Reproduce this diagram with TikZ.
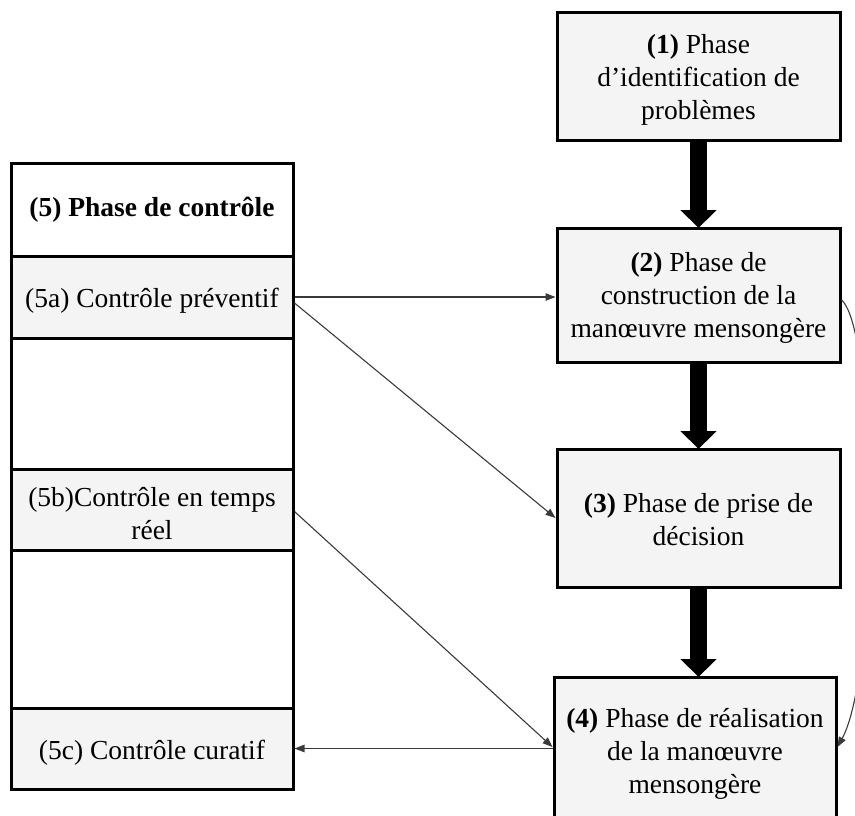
\documentclass[tikz,border=0pt]{standalone}
\usepackage{fontspec}
\setmainfont{Liberation Serif}
\usetikzlibrary{arrows.meta,calc}
\definecolor{boxfill}{HTML}{F4F4F4}
\definecolor{thinline}{HTML}{3A3A3A}
\begin{document}
\begin{tikzpicture}[x=1pt,y=-1pt,
  every node/.style={font=\fontsize{27.5}{33}\selectfont, align=center, inner sep=0pt},
  phase/.style={draw=black, line width=3pt, fill=boxfill, minimum width=283pt},
  row/.style={draw=black, line width=3pt, fill=boxfill, minimum width=282pt},
  bigarrow/.style={line width=17pt, -{Triangle[width=35pt,length=18pt]}},
  thin/.style={draw=thinline, line width=1.1pt, -{Triangle[length=10pt,width=7.5pt]}}]
\useasboundingbox (0,0) rectangle (855,815);
\clip (0,0) rectangle (855,815);
% right column frames
\node[phase, minimum height=128pt] (b1) at (698.5,76) {};
\node[phase, minimum height=134pt] (b2) at (698.5,295) {};
\node[phase, minimum height=138pt] (b3) at (698.5,518) {};
\node[phase, minimum width=282pt, minimum height=150pt] (b4) at (695,752) {};
% right column texts
\node (b1t) at ($(b1)+(0,4)$) {\textbf{(1)} Phase\\d’identification de\\problèmes};
\node (b2t) at ($(b2)+(0,3)$) {\textbf{(2)} Phase de\\construction de la\\manœuvre mensongère};
\node (b3t) at ($(b3)+(0,2)$) {\textbf{(3)} Phase de prise de\\décision};
\node (b4t) at ($(b4)+(0,2)$) {\textbf{(4)} Phase de réalisation\\de la manœuvre\\mensongère};
% left column
\node[draw=black, line width=3pt, fill=white, minimum width=282pt, minimum height=625pt] (ctrl) at (152,475.5) {};
\node (t5) at (152,210) {\textbf{(5) Phase de contrôle}};
\node[row, minimum height=82pt] (r5a) at (152,297) {};
\node[row, minimum height=81pt] (r5b) at (152,509.5) {};
\node[row, minimum height=81pt] (r5c) at (152,748.5) {};
\node (r5at) at ($(r5a)+(0,4)$) {(5a) Contrôle préventif};
\node (r5bt) at ($(r5b)+(0,4)$) {(5b)Contrôle en temps\\réel};
\node (r5ct) at ($(r5c)+(0,4)$) {(5c) Contrôle curatif};
% thick arrows
\draw[bigarrow] (b1.south) -- ($(b2.north)+(0,1.5)$);
\draw[bigarrow] (b2.south) -- ($(b3.north)+(0,1.5)$);
\draw[bigarrow] (b3.south) -- ($(b3.south |- b4.north)+(0,1.5)$);
% thin arrows
\draw[thin] (r5a.east) -- (r5a.east -| b2.west);
\draw[thin] ($(r5a.east)+(0,6)$) -- (b3.west);
\draw[thin] ($(r5b.east)+(0,2)$) -- ($(b4.west)+(0,-5)$);
\draw[thin] (r5c.east -| b4.west) -- (r5c.east);
\draw[thin] ($(b2.east)+(0,5)$) .. controls +(35,30) and +(42,-77) .. ($(b4.east)+(0,-5)$);
\end{tikzpicture}
\end{document}
